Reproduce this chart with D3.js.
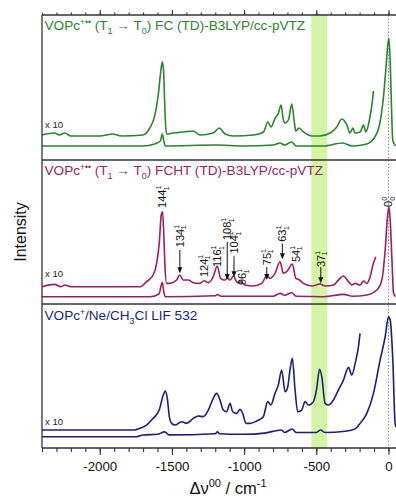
<!DOCTYPE html>
<html>
<head>
<meta charset="utf-8">
<script src="https://cdn.jsdelivr.net/npm/d3@7"></script>
<style>
  html, body { margin: 0; padding: 0; background: #fff; overflow: hidden; }
  svg { display: block; font-family: 'Liberation Sans', Arial, sans-serif; }
</style>
</head>
<body>
<svg id="chart" width="396" height="499"></svg>
<script>
// Spectra as [shift / cm-1, intensity (% of the 0-0 band)]
const fcTrace = [[-2400, 10.2], [-2313, 12.0], [-2280, 10.2], [-2242, 12.0], [-2200, 9.3], [-2000, 9.3], [-1910, 11.1], [-1850, 9.3], [-1700, 10.2], [-1653, 16.7], [-1618, 28.7], [-1595, 47.2], [-1576, 70.4], [-1567, 77.8], [-1558, 70.4], [-1551, 42.6], [-1544, 19.4], [-1537, 11.1], [-1491, 12.0], [-1420, 13.0], [-1352, 13.9], [-1306, 10.2], [-1214, 12.0], [-1172, 16.7], [-1132, 11.1], [-1074, 9.3], [-936, 10.2], [-866, 13.0], [-835, 22.2], [-814, 17.6], [-785, 25.9], [-762, 30.6], [-744, 38.0], [-728, 24.1], [-716, 21.3], [-693, 24.1], [-670, 38.9], [-654, 24.1], [-642, 13.9], [-619, 16.7], [-589, 13.0], [-531, 9.3], [-474, 9.3], [-404, 12.0], [-358, 17.6], [-323, 25.0], [-288, 19.4], [-266, 12.0], [-247, 16.7], [-231, 12.0], [-196, 13.0], [-173, 19.4], [-157, 13.0], [-132, 24.1], [-115, 38.0], [-104, 50.9]];
const fcFull = [[-2400, 0], [-1700, 0], [-1620, 1.9], [-1580, 4.6], [-1567, 11.1], [-1555, 3.7], [-1545, 0], [-1200, 0.9], [-1000, 0], [-800, 0.9], [-750, 2.8], [-720, 0.9], [-670, 3.7], [-640, 0], [-450, 0], [-320, 2.8], [-250, 0], [-150, 1.9], [-80, 12], [-35, 45], [-16, 75], [-4, 95], [3, 100], [12, 78], [20, 40], [30, 5], [50, 0]];

const fchtTrace = [[-2400, 11.1], [-2313, 13.7], [-2270, 11.1], [-2242, 13.0], [-2200, 11.1], [-1720, 11.1], [-1676, 16.7], [-1630, 24.1], [-1606, 37.0], [-1588, 59.3], [-1574, 90.8], [-1565, 94.4], [-1555, 63.0], [-1548, 33.3], [-1537, 14.8], [-1514, 14.8], [-1468, 18.5], [-1445, 24.1], [-1422, 18.5], [-1387, 18.5], [-1352, 15.6], [-1306, 14.8], [-1278, 17.8], [-1248, 15.6], [-1214, 22.2], [-1186, 34.1], [-1163, 20.4], [-1133, 18.5], [-1114, 21.1], [-1098, 18.5], [-1074, 23.0], [-1047, 15.6], [-1024, 16.7], [-994, 13.0], [-936, 11.9], [-878, 14.8], [-843, 23.0], [-820, 20.4], [-786, 26.0], [-751, 38.9], [-728, 26.0], [-705, 27.8], [-666, 36.3], [-642, 20.4], [-624, 19.3], [-589, 14.8], [-531, 11.9], [-474, 14.1], [-439, 11.9], [-381, 13.0], [-347, 18.5], [-312, 23.0], [-277, 16.7], [-254, 13.0], [-231, 14.8], [-197, 13.0], [-173, 17.4], [-150, 14.8], [-127, 22.2], [-108, 35.2], [-88, 44.4]];
const fchtFull = [[-2400, 0], [-1650, 0], [-1590, 3], [-1567, 16], [-1555, 4], [-1545, 0], [-1200, 1], [-1185, 2.5], [-1160, 0.5], [-800, 0.5], [-750, 3.7], [-720, 1.5], [-670, 4.4], [-640, 0.5], [-450, 0], [-310, 2.6], [-250, 0.5], [-150, 1.9], [-80, 7.4], [-46, 18.5], [-23, 51.9], [-7, 88.9], [3, 100], [12, 85], [24, 41], [35, 4], [50, 0]];

const lifTrace = [[-2400, 5.6], [-1760, 5.6], [-1722, 7.0], [-1676, 9.7], [-1630, 15.3], [-1588, 22.2], [-1560, 34.7], [-1546, 38.1], [-1532, 32], [-1518, 16.7], [-1502, 11.1], [-1479, 9.7], [-1433, 12.5], [-1398, 11.1], [-1352, 15.3], [-1317, 17.2], [-1283, 16.7], [-1248, 22.2], [-1214, 32], [-1191, 36.1], [-1167, 30.6], [-1144, 22.2], [-1121, 20.8], [-1098, 27.8], [-1079, 20.8], [-1052, 19.4], [-1028, 22.8], [-1010, 19.4], [-987, 11.1], [-959, 11.1], [-913, 13.1], [-867, 16.7], [-836, 29.2], [-815, 26.4], [-786, 36.1], [-763, 43.1], [-740, 55.6], [-716, 37.5], [-700, 40.3], [-682, 55.6], [-666, 65.3], [-647, 38.9], [-629, 20.8], [-601, 22.2], [-578, 29.2], [-555, 26.4], [-520, 29.2], [-497, 40.3], [-478, 56.2], [-462, 50], [-439, 27.8], [-416, 26.4], [-381, 30.6], [-347, 38.9], [-312, 47.2], [-277, 57.8], [-254, 51.4], [-231, 61.1], [-208, 75], [-197, 86.1]];
const lifFull = [[-2400, 0], [-1745, 0], [-1700, 1.4], [-1600, 2.0], [-1550, 4], [-1520, 1.5], [-1200, 2.5], [-1185, 4], [-1170, 2.5], [-1000, 2], [-860, 3], [-740, 5.6], [-720, 3.5], [-666, 6.4], [-640, 3.5], [-500, 3.5], [-470, 5.6], [-440, 3.5], [-300, 4.5], [-230, 6.5], [-197, 11.1], [-150, 19.4], [-104, 36.1], [-58, 63.9], [-23, 83.3], [0, 100], [12, 97], [30, 64], [46, 11], [53, 8]];

// vibronic band assignments in the FCHT panel: [mode, shift, label level, arrow start, arrow tip] (intensity units)
const bandLabels = [
  ['144', -1567, 98.6, null, null],
  ['134', -1445, 55, 51.9, 26],
  ['124', -1278, 21.8, null, null],
  ['116', -1186, 33, null, null],
  ['108', -1117, 63, 61, 18.5],
  ['104', -1070, 48, 45, 21.5],
  ['96', -1010, 13, null, null],
  ['75', -843, 35, 33, 18.5],
  ['63', -735, 61, 59, 41.5],
  ['54', -642, 38.5, null, null],
  ['37', -469, 33, 33, 15]
];
const originLabel = ['0', 0, 99.7];

const highlightBand = [-535, -424];
const xDomain = [-2400, 50];
const xMajorTicks = [-2000, -1500, -1000, -500, 0];
const xMinorStep = 100;

const panelTitles = [
  { main: 'VOPc', sup: '+\u2022\u2022', rest: [' (T', ['sub', '1'], ' \u2192 T', ['sub', '0'], ') FC (TD)-B3LYP/cc-pVTZ'] },
  { main: 'VOPc', sup: '+\u2022\u2022', rest: [' (T', ['sub', '1'], ' \u2192 T', ['sub', '0'], ') FCHT (TD)-B3LYP/cc-pVTZ'] },
  { main: 'VOPc', sup: '+', rest: ['/Ne/CH', ['sub', '3'], 'Cl LIF 532'] }
];

// layout
const W = 396, H = 499;
const plotLeft = 42, plotRight = 395.7, plotTop = 15, plotBottom = 448;
const panels = [
  { top: 15, bottom: 160, base: 146, h: 108, color: '#2a852c', trace: fcTrace, full: fcFull, titleY: 30, x10Y: 128 },
  { top: 160, bottom: 304, base: 296.7, h: 90, color: '#9b1f62', trace: fchtTrace, full: fchtFull, titleY: 175, x10Y: 277 },
  { top: 304, bottom: 448, base: 436.7, h: 120, color: '#1c1f7d', trace: lifTrace, full: lifFull, titleY: 320, x10Y: 425 }
];

const svg = d3.select('#chart');
const x = d3.scaleLinear().domain(xDomain).range([plotLeft, plotRight]);

svg.append('defs').append('clipPath').attr('id', 'plotclip')
  .append('rect').attr('x', plotLeft).attr('y', plotTop).attr('width', W - plotLeft).attr('height', plotBottom - plotTop);

// highlight band
svg.append('rect')
  .attr('x', x(highlightBand[0]))
  .attr('y', plotTop)
  .attr('width', x(highlightBand[1]) - x(highlightBand[0]))
  .attr('height', plotBottom - plotTop)
  .attr('fill', '#d5f5a6');

// origin line
svg.append('line')
  .attr('x1', x(0)).attr('x2', x(0))
  .attr('y1', plotTop).attr('y2', plotBottom)
  .attr('stroke', '#888')
  .attr('stroke-width', 1)
  .attr('stroke-dasharray', '1.5,1.8');

const plot = svg.append('g').attr('clip-path', 'url(#plotclip)');

panels.forEach((p, i) => {
  const y = d3.scaleLinear().domain([0, 100]).range([p.base, p.base - p.h]);
  const line = d3.line()
    .x((d) => x(d[0]))
    .y((d) => y(d[1]))
    .curve(d3.curveMonotoneX);

  [p.full, p.trace].forEach((series) => {
    plot.append('path')
      .datum(series)
      .attr('d', line)
      .attr('fill', 'none')
      .attr('stroke', p.color)
      .attr('stroke-width', 1.6)
      .attr('stroke-linejoin', 'round');
  });

  // title
  const t = panelTitles[i];
  const title = svg.append('text')
    .attr('x', plotLeft + 2.5)
    .attr('y', p.titleY)
    .attr('fill', p.color)
    .attr('font-size', 13.6);
  title.append('tspan').text(t.main);
  title.append('tspan').attr('font-size', 8.5).attr('dy', -5.5).text(t.sup);
  let shifted = -5.5;
  t.rest.forEach((part) => {
    if (Array.isArray(part)) {
      title.append('tspan').attr('font-size', 9).attr('dy', 3.5 - shifted).text(part[1]);
      shifted = 3.5;
    } else {
      title.append('tspan').attr('dy', -shifted).text(part);
      shifted = 0;
    }
  });

  svg.append('text')
    .attr('x', plotLeft + 3)
    .attr('y', p.x10Y)
    .attr('font-size', 9.5)
    .attr('fill', '#222')
    .text('x 10');

  // band labels for the FCHT panel
  if (i === 1) {
    const lab = svg.append('g').attr('class', 'band-labels');
    const addLabel = (mode, v, level, supTxt) => {
      const txt = lab.append('text')
        .attr('transform', `translate(${x(v) + 3.8},${y(level)}) rotate(-90)`)
        .attr('font-size', 11)
        .attr('fill', '#111');
      txt.append('tspan').text(mode);
      txt.append('tspan').attr('font-size', 7).attr('dy', -4.8).text(supTxt);
      txt.append('tspan').attr('font-size', 7).attr('dx', -3.9).attr('dy', 7.5).text(supTxt);
    };
    bandLabels.forEach(([mode, v, level, a0, a1]) => {
      addLabel(mode, v, level, '1');
      if (a0 !== null) {
        const y0 = y(a0), y1 = y(a1);
        lab.append('line')
          .attr('x1', x(v)).attr('x2', x(v))
          .attr('y1', y0).attr('y2', y1 - 5)
          .attr('stroke', '#111').attr('stroke-width', 1);
        lab.append('path')
          .attr('d', `M${x(v) - 2.5},${y1 - 6}L${x(v) + 2.5},${y1 - 6}L${x(v)},${y1}Z`)
          .attr('fill', '#111');
      }
    });
    addLabel(originLabel[0], originLabel[1], originLabel[2], '0');
  }
});

// frame
const frame = svg.append('g').attr('stroke', '#333').attr('stroke-width', 1.3);
frame.append('line').attr('x1', plotLeft).attr('x2', plotLeft).attr('y1', plotTop).attr('y2', plotBottom);
[plotTop, panels[0].bottom, panels[1].bottom, plotBottom].forEach((yy) => {
  frame.append('line').attr('x1', plotLeft).attr('x2', W).attr('y1', yy).attr('y2', yy);
});

// axes
const minorTicks = d3.range(xDomain[0], 1, xMinorStep);
const addAxis = (axis, yPos) => {
  const g = svg.append('g').attr('transform', `translate(0,${yPos})`).call(axis);
  g.select('.domain').remove();
  g.selectAll('line').attr('stroke', '#333').attr('stroke-width', 1.1);
  return g;
};
addAxis(d3.axisTop(x).tickValues(minorTicks).tickFormat('').tickSize(2.5), plotTop);
addAxis(d3.axisTop(x).tickValues(xMajorTicks).tickFormat('').tickSize(5), plotTop);
addAxis(d3.axisBottom(x).tickValues(minorTicks).tickFormat('').tickSize(4), plotBottom);
const gx = addAxis(d3.axisBottom(x).tickValues(xMajorTicks).tickFormat(d3.format('d')).tickSize(7).tickPadding(6.5), plotBottom);
gx.selectAll('text')
  .attr('font-size', 13.3)
  .attr('font-family', "'Liberation Sans', Arial, sans-serif")
  .attr('fill', '#111')
  .text((d) => (d < 0 ? '-' + Math.abs(d) : d));

// axis titles
const xt = svg.append('text')
  .attr('x', 228)
  .attr('y', 494)
  .attr('text-anchor', 'middle')
  .attr('font-size', 16.5)
  .attr('fill', '#111');
xt.append('tspan').text('\u0394\u03bd');
xt.append('tspan').attr('font-size', 11).attr('dy', -7).text('00');
xt.append('tspan').attr('dy', 7).text(' / cm');
xt.append('tspan').attr('font-size', 11).attr('dy', -7).text('-1');

svg.append('text')
  .attr('transform', 'translate(26,232) rotate(-90)')
  .attr('text-anchor', 'middle')
  .attr('font-size', 16)
  .attr('fill', '#111')
  .text('Intensity');
</script>
</body>
</html>
